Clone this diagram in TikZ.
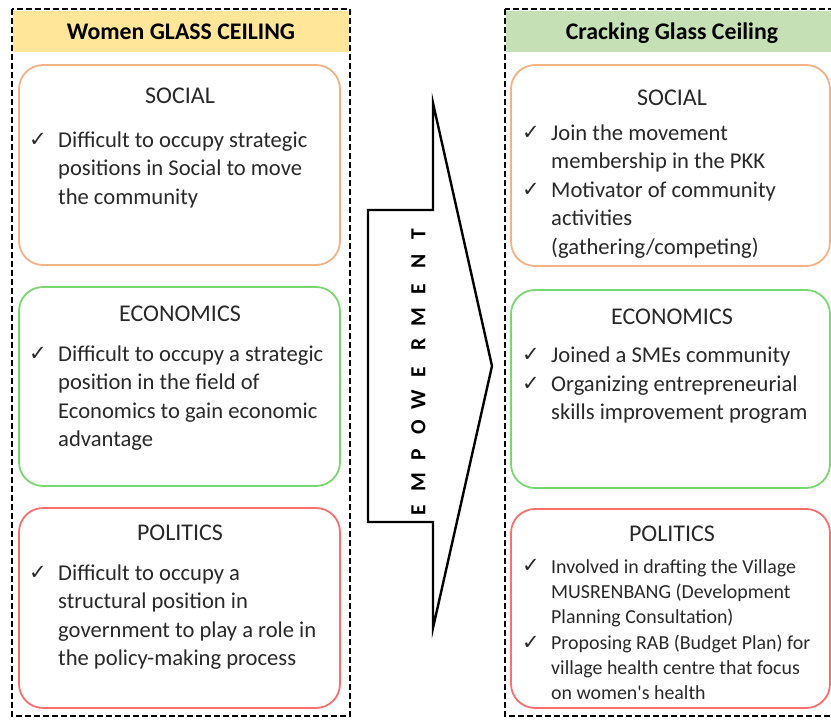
\documentclass[tikz,border=0pt]{standalone}
\usepackage{fontspec}
\setmainfont{Carlito}
\newfontfamily\symfont{DejaVu Sans}
\definecolor{orangeb}{RGB}{244,177,131}
\definecolor{greenb}{RGB}{120,215,110}
\definecolor{redb}{RGB}{250,110,110}
\definecolor{yellowh}{RGB}{255,230,153}
\definecolor{greenh}{RGB}{197,224,180}
\definecolor{txt}{RGB}{40,40,40}
\newcommand\lsp[1]{\makebox[27.6pt]{#1}}
\begin{document}
\begin{tikzpicture}[x=1pt,y=-1pt,
  outer/.style={draw=black,line width=2.6pt,dash pattern=on 6pt off 3pt},
  catbox/.style={rounded corners=24pt,line width=1.8pt},
  head/.style={font=\fontsize{23.8}{26}\selectfont\bfseries,text=black,inner sep=0},
  sect/.style={font=\fontsize{24}{28}\selectfont,text=txt,inner sep=0,anchor=base},
  item/.style={font=\fontsize{22.6}{28.6}\selectfont,text=txt,inner sep=0,anchor=base west,align=left},
  sitem/.style={font=\fontsize{19.9}{25}\selectfont,text=txt,inner sep=0,anchor=base west,align=left},
  chk/.style={font=\symfont\fontsize{21}{22}\selectfont,text=txt,inner sep=0,anchor=base west}]
\useasboundingbox (0,0) rectangle (831,720);
\begin{scope}
\clip (0,0) rectangle (831,720);
% headers
\fill[yellowh] (13,11) rectangle (349,52);
\fill[greenh] (506,11) rectangle (834,52);
\draw[outer] (12,9) rectangle (350,716);
\draw[outer] (505,9) rectangle (840,716);
\node[head] (lt) at (181,32) {Women GLASS CEILING};
\node[head] (rt) at (672,33) {Cracking Glass Ceiling};
% left boxes
\draw[catbox,draw=orangeb] (19,65) rectangle (340,265);
\draw[catbox,draw=greenb] (19,287) rectangle (340,486);
\draw[catbox,draw=redb] (19,508) rectangle (340,708);
% right boxes
\draw[catbox,draw=orangeb] (511,65) rectangle (830,266);
\draw[catbox,draw=greenb] (511,290) rectangle (830,488);
\draw[catbox,draw=redb] (511,509) rectangle (830,708);
\end{scope}
% arrow
\draw[line width=2.4pt,line join=miter,fill=white] (368,210) -- (433,210) -- (433,103) -- (492,366) -- (433,628) -- (433,522) -- (368,522) -- cycle;
\node[font=\fontsize{21.5}{22}\selectfont\bfseries,rotate=90,inner sep=0] (emp) at (418.5,372) {\lsp{E}\lsp{M}\lsp{P}\lsp{O}\lsp{W}\lsp{E}\lsp{R}\lsp{M}\lsp{E}\lsp{N}\lsp{T}};
% left texts
\node[sect] (ls) at (180,103) {SOCIAL};
\node[chk] (lc1) at (29,146) {✓};
\node[item] (li1) at (58,204.2) {Difficult to occupy strategic\\positions in Social to move\\the community};
\node[sect] (le) at (180,321) {ECONOMICS};
\node[chk] (lc2) at (29,360) {✓};
\node[item] (li2) at (58,446.8) {Difficult to occupy a strategic\\position in the field of\\Economics to gain economic\\advantage};
\node[sect] (lp) at (180,540) {POLITICS};
\node[chk] (lc3) at (29,579) {✓};
\node[item] (li3) at (58,665.8) {Difficult to occupy a\\structural position in\\government to play a role in\\the policy-making process};
% right texts
\node[sect] (rs) at (672,105) {SOCIAL};
\node[chk] (rc1) at (522,139) {✓};
\node[item] (ri1) at (551,168.6) {Join the movement\\membership in the PKK};
\node[chk] (rc2) at (522,196) {✓};
\node[item] (ri2) at (551,254.2) {Motivator of community\\activities\\(gathering/competing)};
\node[sect] (re) at (672,324) {ECONOMICS};
\node[chk] (rc3) at (522,361) {✓};
\node[item] (ri3) at (551,362) {Joined a SMEs community};
\node[chk] (rc4) at (522,390) {✓};
\node[item] (ri4) at (551,419.6) {Organizing entrepreneurial\\skills improvement program};
\node[sect] (rp) at (672,541) {POLITICS};
\node[chk] (rc5) at (522,572) {✓};
\node[sitem] (ri5) at (551,623) {Involved in drafting the Village\\MUSRENBANG (Development\\Planning Consultation)};
\node[chk] (rc6) at (522,649) {✓};
\node[sitem] (ri6) at (551,699) {Proposing RAB (Budget Plan) for\\village health centre that focus\\on women\textquotesingle s health};
\end{tikzpicture}
\end{document}
